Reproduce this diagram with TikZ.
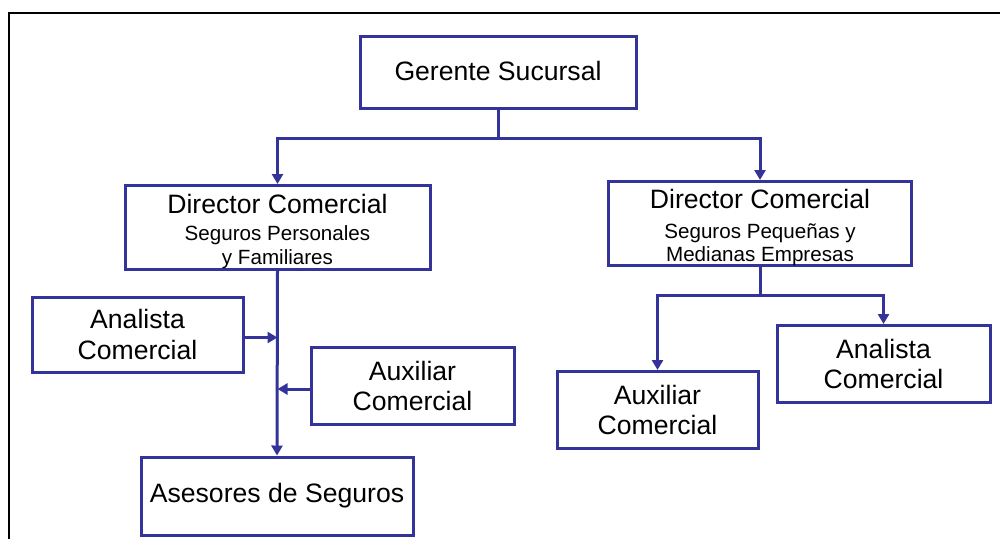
\documentclass[tikz,border=0pt]{standalone}
\usepackage{fontspec}
\setmainfont{Liberation Sans}
\usetikzlibrary{arrows.meta}
\definecolor{orgblue}{RGB}{51,51,153}
\newcommand\bigtxt{\fontsize{26.6}{30.5}\selectfont}
\newcommand\smalltxt{\fontsize{20.6}{24}\selectfont}
\begin{document}
\begin{tikzpicture}[x=1pt,y=-1pt,
  box/.style={draw=orgblue, line width=3pt, fill=white, inner sep=0pt,
    align=center, font=\bigtxt},
  head/.style={anchor=base, inner sep=0pt, font=\bigtxt},
  sub/.style={anchor=base, inner sep=0pt, font=\smalltxt},
  link/.style={draw=orgblue, line width=3pt},
  arr/.style={link, -{Triangle[length=10pt,width=11pt]}}]
\useasboundingbox (0,0) rectangle (1000,538);

% page frame
\draw[line width=2pt] (9,540) -- (9,13) -- (1002,13);

% boxes
\node[box, minimum width=276pt, minimum height=72pt, text depth=2pt] (ger) at (498,72) {Gerente Sucursal};
\node[box, minimum width=305pt, minimum height=84pt] (dl) at (277.5,227.5) {};
\node[box, minimum width=303pt, minimum height=84pt] (dr) at (760,223.5) {};
\node[box, minimum width=211pt, minimum height=75pt] (al) at (137.5,334.5) {Analista\\Comercial};
\node[box, minimum width=203pt, minimum height=77pt] (xl) at (412.5,386) {Auxiliar\\Comercial};
\node[box, minimum width=272pt, minimum height=78pt] (as) at (277,496) {Asesores de Seguros};
\node[box, minimum width=201pt, minimum height=77pt] (xr) at (657.5,410) {Auxiliar\\Comercial};
\node[box, minimum width=213pt, minimum height=77pt] (ar) at (883.5,364) {Analista\\Comercial};

% director titles
\node[head] (dlh) at (277.5,213.5) {Director Comercial};
\node[sub] (dls1) at (277.5,240) {Seguros Personales};
\node[sub] (dls2) at (277.5,264) {y Familiares};
\node[head] (drh) at (760,208.5) {Director Comercial};
\node[sub] (drs1) at (760,238) {Seguros Pequeñas y};
\node[sub] (drs2) at (760,261) {Medianas Empresas};

% reporting lines
\coordinate (gj) at (498,138);
\draw[link] (ger.south) -- (gj);
\draw[arr] (gj) -| (dl.north);
\draw[arr] (gj) -| (dr.north);

\draw[arr] (dl.south) -- (as.north);
\draw[arr] ([yshift=-3pt]al.east) -- ([yshift=-3pt]al.east -| dl.south);
\draw[arr] ([yshift=-3pt]xl.west) -- ([yshift=-3pt]xl.west -| dl.south);

\coordinate (rj) at (760,295);
\draw[link] (dr.south) -- (rj);
\draw[arr] (rj) -| (xr.north);
\draw[arr] (rj) -| (ar.north);
\end{tikzpicture}
\end{document}
